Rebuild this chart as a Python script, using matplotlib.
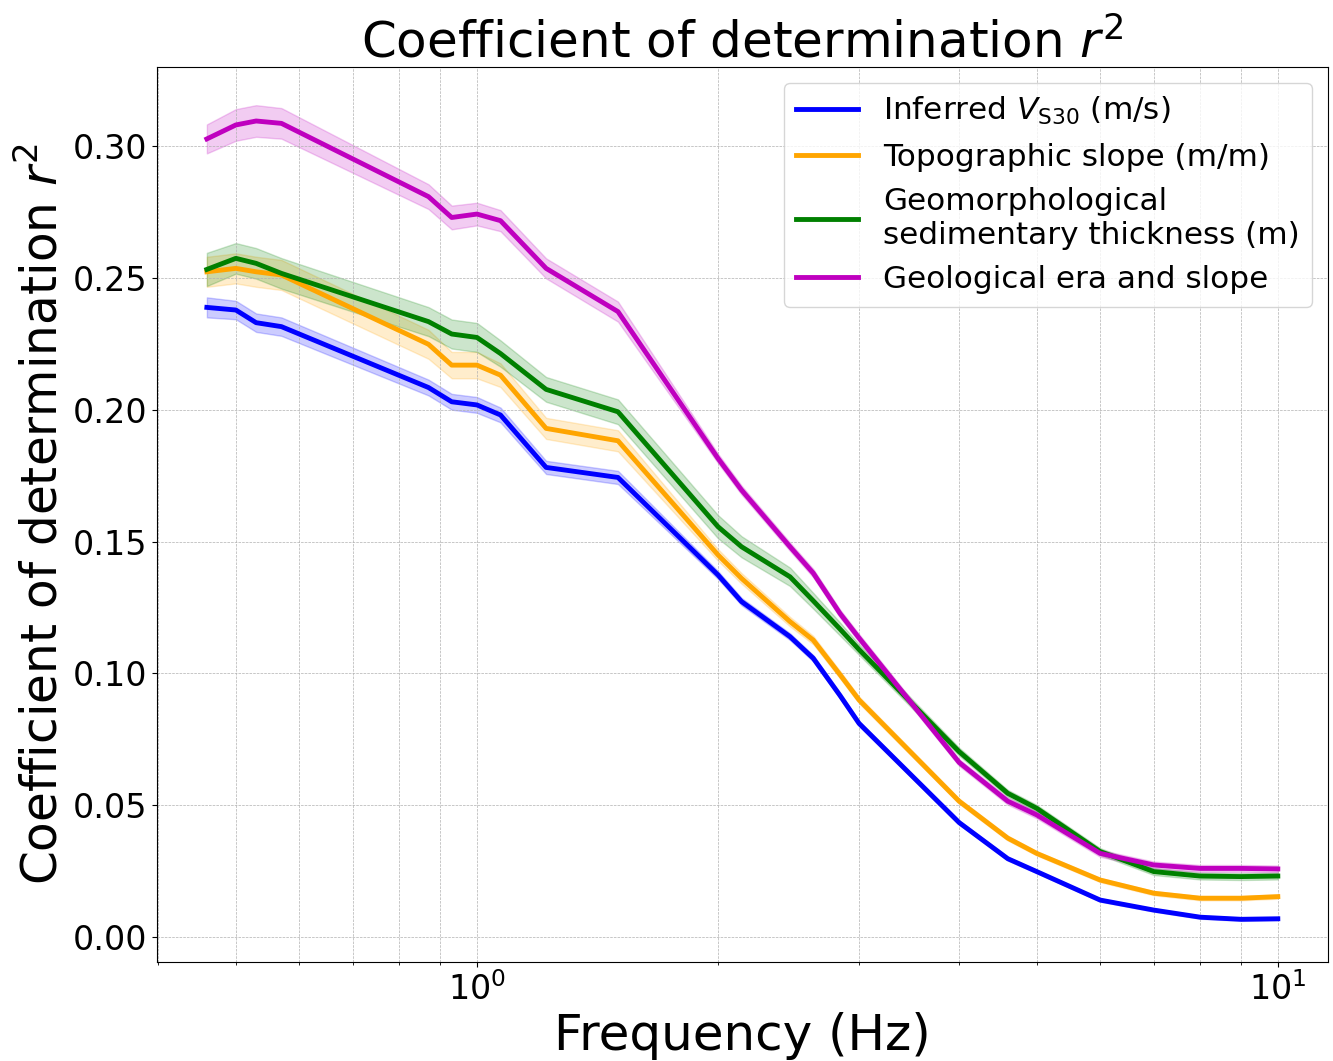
import matplotlib
matplotlib.use('Agg')
import matplotlib.pyplot as plt
import numpy as np

# Frequencies (Hz) at which r^2 was evaluated
freqs = [0.46, 0.5, 0.53, 0.57, 0.87, 0.93, 1.0, 1.07, 1.22, 1.5, 2.0, 2.14,
         2.46, 2.63, 2.84, 3.0, 4.0, 4.6, 5.0, 6.0, 7.0, 8.0, 9.0, 10.0]

# Mean r^2 for each proxy
r2_vs30 = [0.2388, 0.2378, 0.2330, 0.2315, 0.2084, 0.2030, 0.2018, 0.1980,
           0.1781, 0.1743, 0.1373, 0.1272, 0.1139, 0.1057, 0.0916, 0.0810,
           0.0434, 0.0297, 0.0248, 0.0140, 0.0102, 0.0075, 0.0067, 0.0069]
r2_slope = [0.2523, 0.2536, 0.2523, 0.2511, 0.2248, 0.2169, 0.2169, 0.2131,
            0.1929, 0.1882, 0.1449, 0.1360, 0.1196, 0.1126, 0.0995, 0.0899,
            0.0515, 0.0375, 0.0317, 0.0216, 0.0166, 0.0147, 0.0147, 0.0153]
r2_sed = [0.2532, 0.2574, 0.2555, 0.2517, 0.2334, 0.2287, 0.2274, 0.2213,
          0.2077, 0.1992, 0.1556, 0.1480, 0.1366, 0.1275, 0.1168, 0.1090,
          0.0703, 0.0545, 0.0488, 0.0324, 0.0248, 0.0231, 0.0229, 0.0231]
r2_geo = [0.3027, 0.3080, 0.3095, 0.3086, 0.2808, 0.2729, 0.2742, 0.2717,
          0.2536, 0.2372, 0.1815, 0.1695, 0.1480, 0.1380, 0.1227, 0.1134,
          0.0662, 0.0515, 0.0463, 0.0317, 0.0273, 0.0260, 0.0260, 0.0258]

# Standard deviation of r^2 across bootstrap runs
sd_vs30 = [0.0038, 0.0035, 0.0035, 0.0035, 0.0030, 0.0030, 0.0030, 0.0028,
           0.0025, 0.0025, 0.0015, 0.0014, 0.0013, 0.0012, 0.0011, 0.0010,
           0.0008, 0.0007, 0.0006, 0.0006, 0.0006, 0.0006, 0.0006, 0.0006]
sd_slope = [0.0057, 0.0057, 0.0057, 0.0057, 0.0055, 0.0050, 0.0050, 0.0045,
            0.0040, 0.0040, 0.0022, 0.0020, 0.0018, 0.0016, 0.0014, 0.0013,
            0.0010, 0.0009, 0.0008, 0.0008, 0.0008, 0.0008, 0.0008, 0.0008]
sd_sed = [0.0063, 0.0058, 0.0058, 0.0058, 0.0055, 0.0055, 0.0055, 0.0050,
          0.0047, 0.0047, 0.0044, 0.0040, 0.0035, 0.0030, 0.0025, 0.0020,
          0.0015, 0.0013, 0.0013, 0.0013, 0.0013, 0.0013, 0.0013, 0.0013]
sd_geo = [0.0055, 0.0060, 0.0060, 0.0058, 0.0047, 0.0045, 0.0043, 0.0040,
          0.0038, 0.0038, 0.0018, 0.0017, 0.0016, 0.0016, 0.0015, 0.0015,
          0.0013, 0.0013, 0.0013, 0.0013, 0.0013, 0.0013, 0.0013, 0.0013]

labels = [r'Inferred $V_{\mathrm{S30}}$ (m/s)',
          'Topographic slope (m/m)',
          'Geomorphological\nsedimentary thickness (m)',
          'Geological era and slope']
colors = ['blue', 'orange', 'green', 'm']

fig = plt.figure(figsize=(13.33, 10.61), dpi=100)
ax = fig.add_axes([0.1178, 0.0933, 0.8784, 0.8436])

f = np.array(freqs)
for mean, sd, lab, col in zip([r2_vs30, r2_slope, r2_sed, r2_geo],
                              [sd_vs30, sd_slope, sd_sed, sd_geo],
                              labels, colors):
    mean = np.array(mean)
    sd = np.array(sd)
    ax.plot(f, mean, color=col, lw=3.5, label=lab)
    ax.fill_between(f, mean - sd, mean + sd, color=col, alpha=0.2)

ax.set_xscale('log')
ax.set_xlim(0.3986, 11.55)
ax.set_ylim(-0.0095, 0.33)
ax.grid(True, which='both', ls='--', lw=0.5)

ax.set_title(r'Coefficient of determination $r^2$', fontsize=36)
ax.set_xlabel('Frequency (Hz)', fontsize=36)
ax.set_ylabel(r'Coefficient of determination $r^2$', fontsize=35)
ax.tick_params(axis='both', which='major', labelsize=24)
ax.legend(loc='upper right', fontsize=22.4)

plt.savefig('out.png', dpi=100)
